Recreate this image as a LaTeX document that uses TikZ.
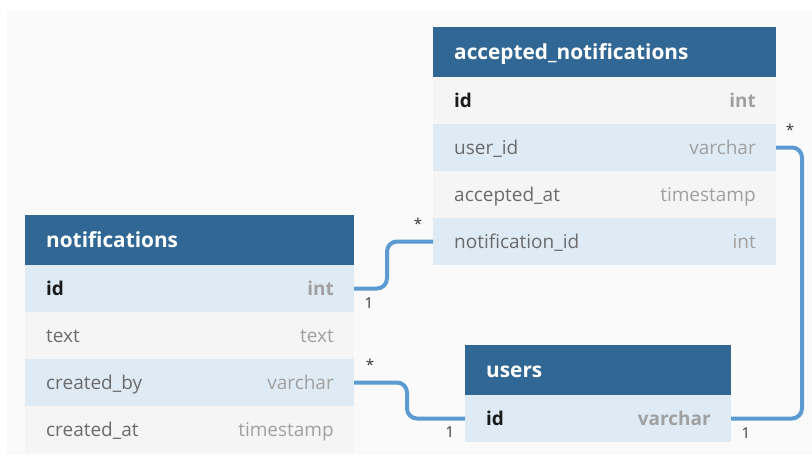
\documentclass[tikz,border=0pt]{standalone}
\usepackage{fontspec}
\setmainfont{Open Sans}

\definecolor{canvas}{HTML}{FAFAFA}
\definecolor{headblue}{HTML}{316794}
\definecolor{keyrow}{HTML}{DEEBF4}
\definecolor{plainrow}{HTML}{F5F5F5}
\definecolor{fieldgray}{HTML}{6B6B6B}
\definecolor{typegray}{HTML}{A0A0A0}
\definecolor{keyblack}{HTML}{1A1A1A}
\definecolor{linkblue}{HTML}{5B9BD2}
\definecolor{cardtext}{HTML}{333333}

\tikzset{
  rowbox/.style={inner sep=0pt, outer sep=0pt, minimum height=47pt, anchor=north west},
  headbox/.style={rowbox, fill=headblue, minimum height=50pt},
  headtxt/.style={inner sep=0pt, anchor=base west, text=white, font=\fontsize{20.8}{24}\selectfont\bfseries},
  fieldtxt/.style={inner sep=0pt, anchor=base west, text=fieldgray, font=\fontsize{19}{22}\selectfont},
  typetxt/.style={inner sep=0pt, anchor=base east, text=typegray, font=\fontsize{19}{22}\selectfont},
  link/.style={draw=linkblue, line width=4pt, rounded corners=10pt},
  card/.style={inner sep=0pt, text=cardtext, font=\fontsize{15}{17}\selectfont},
}

% table header: name, x, y, width, title
\newcommand\tblhead[5]{%
  \node[headbox, minimum width=#4] (#1) at (#2,#3) {};
  \node[headtxt] (#1-t) at ([xshift=21pt,yshift=-7.5pt]#1.west) {#5};
}
% table row: name, x, y, width, fill, field, type
\newcommand\tblrow[7]{%
  \node[rowbox, fill=#5, minimum width=#4] (#1) at (#2,#3) {};
  \node[fieldtxt] (#1-f) at ([xshift=21pt,yshift=-6.5pt]#1.west) {#6};
  \node[typetxt] (#1-t) at ([xshift=-20pt,yshift=-6.5pt]#1.east) {#7};
}

\begin{document}
\begin{tikzpicture}[x=1pt, y=-1pt]
  \useasboundingbox (0,0) rectangle (812,458);
  \fill[canvas] (7,11) rectangle (812,455);

  % accepted_notifications
  \tblhead{an}{433}{27}{343pt}{accepted\_notifications}
  \tblrow{an-id}{433}{77}{343pt}{plainrow}{\bfseries\color{keyblack}id}{\bfseries int}
  \tblrow{an-uid}{433}{124}{343pt}{keyrow}{user\_id}{varchar}
  \tblrow{an-at}{433}{171}{343pt}{plainrow}{accepted\_at}{timestamp}
  \tblrow{an-nid}{433}{218}{343pt}{keyrow}{notification\_id}{int}

  % notifications
  \tblhead{n}{25}{215}{329pt}{notifications}
  \tblrow{n-id}{25}{265}{329pt}{keyrow}{\bfseries\color{keyblack}id}{\bfseries int}
  \tblrow{n-text}{25}{312}{329pt}{plainrow}{text}{text}
  \tblrow{n-cb}{25}{359}{329pt}{keyrow}{created\_by}{varchar}
  \tblrow{n-ca}{25}{406}{329pt}{plainrow}{created\_at}{timestamp}

  % users
  \tblhead{u}{465}{345}{266pt}{users}
  \tblrow{u-id}{465}{395}{266pt}{keyrow}{\bfseries\color{keyblack}id}{\bfseries varchar}

  % relations
  \draw[link] (n-id.east) -- ++(33,0) |- (an-nid.west);
  \draw[link] (n-cb.east) -- ++(53,0) |- (u-id.west);
  \draw[link] (an-uid.east) -- ++(26,0) |- (u-id.east);

  % cardinalities
  \node[card] (c1) at ([xshift=15pt,yshift=-14.5pt]n-id.east) {1};
  \node[card] (c2) at ([xshift=-15pt,yshift=17.5pt]an-nid.west) {*};
  \node[card] (c3) at ([xshift=16pt,yshift=17.5pt]n-cb.east) {*};
  \node[card] (c4) at ([xshift=-15pt,yshift=-13.5pt]u-id.west) {1};
  \node[card] (c5) at ([xshift=14pt,yshift=17.5pt]an-uid.east) {*};
  \node[card] (c6) at ([xshift=15pt,yshift=-14.5pt]u-id.east) {1};
\end{tikzpicture}
\end{document}
